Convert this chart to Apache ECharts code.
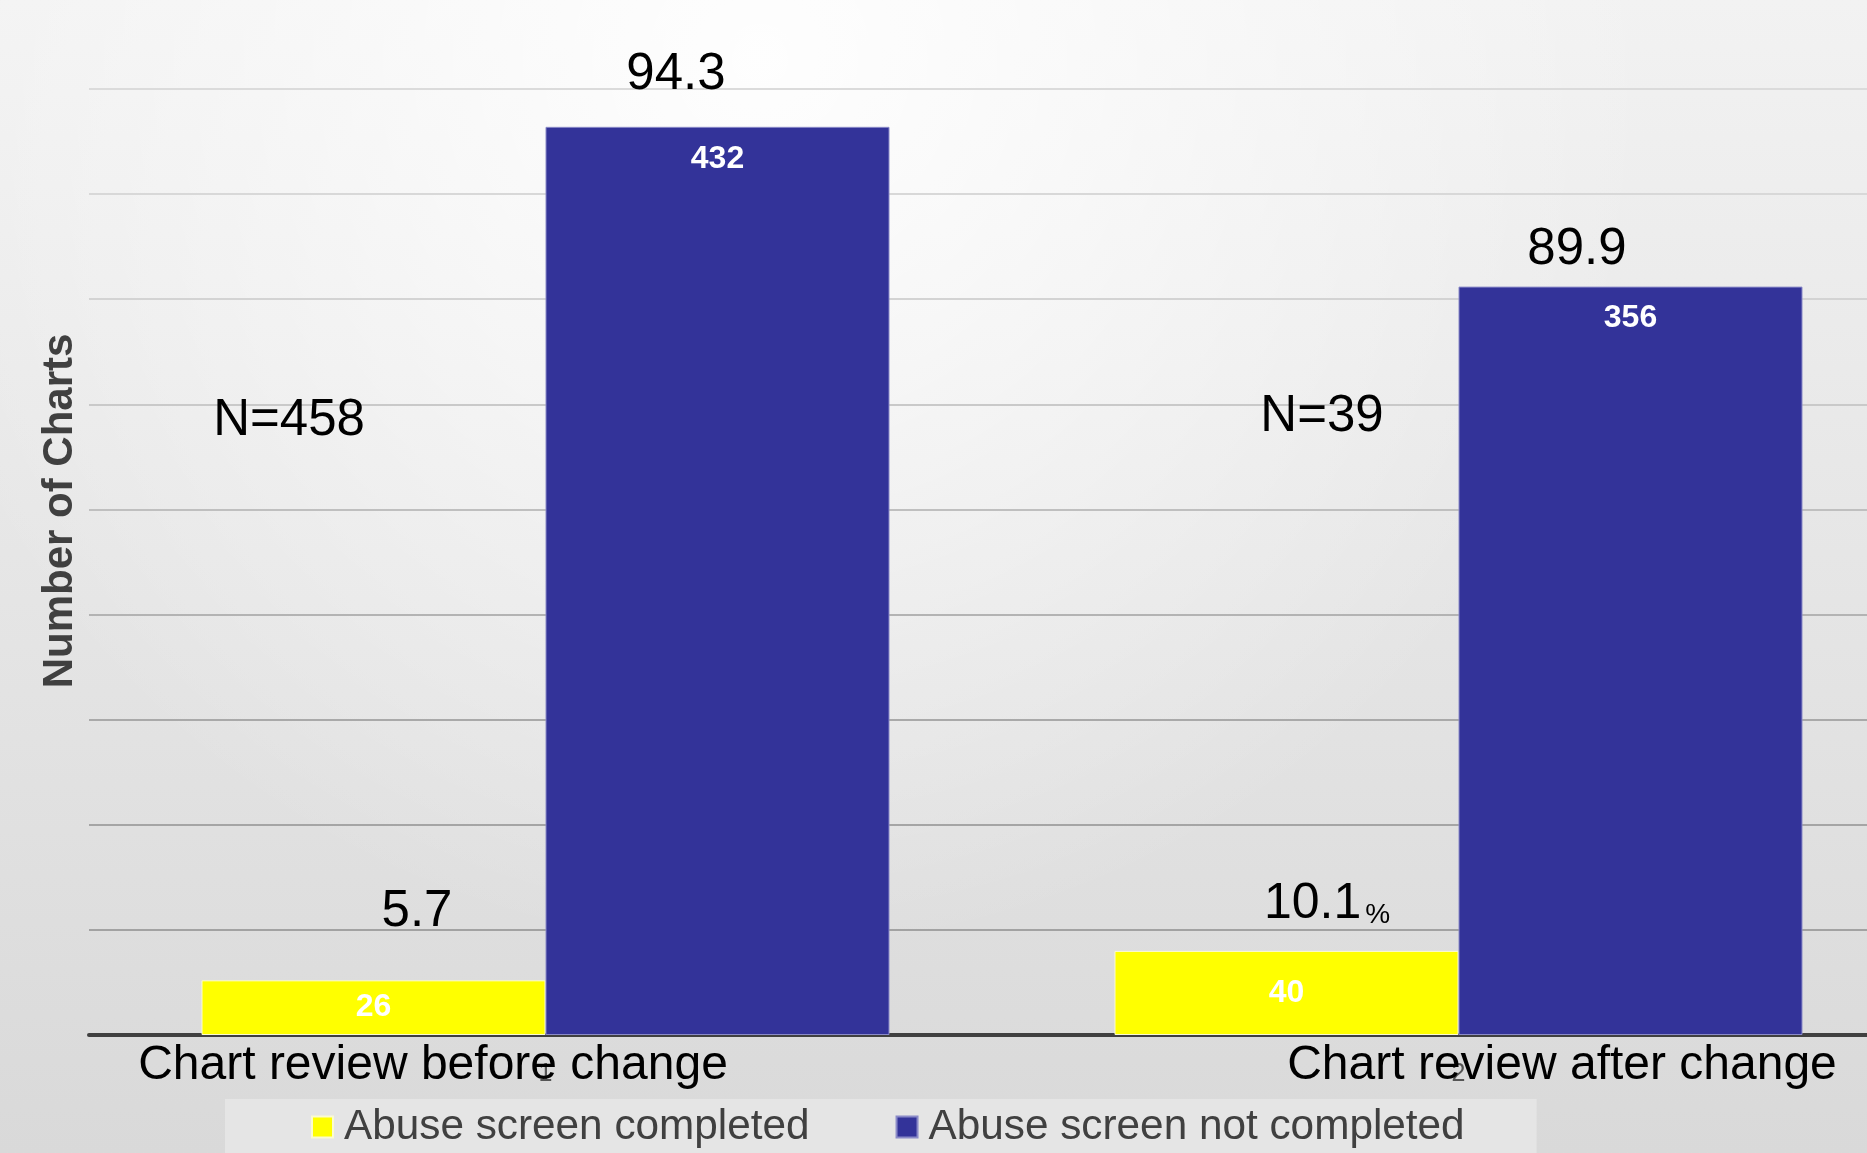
<!DOCTYPE html>
<html>
<head>
<meta charset="utf-8">
<title>Abuse screening chart review</title>
<script src="https://cdn.jsdelivr.net/npm/echarts@6/dist/echarts.min.js"></script>
<style>
  html, body { margin: 0; padding: 0; overflow: hidden; width: 1867px; height: 1153px; }
  /* the plot band carries on a little past the right edge of the page */
  #chart {
    width: 1915px;
    height: 1153px;
    background:
      radial-gradient(circle 900px at 760px 60px, rgba(255,255,255,0.92), rgba(255,255,255,0)),
      linear-gradient(180deg, #f2f2f2 0%, #d9d9d9 100%);
  }
</style>
</head>
<body>
<div id="chart"></div>
<script>
// Category axis ticks and the titles written beneath each group
const categories = ['1', '2'];
const categoryTitles = ['Chart review before change', 'Chart review after change'];

// Number of charts in each group
const screenCompleted = [26, 40];
const screenNotCompleted = [432, 356];

// Percentages and sample sizes annotated above the bars
const completedPct = ['5.7', '10.1'];
const notCompletedPct = ['94.3', '89.9'];
const sampleSizes = ['N=458', 'N=39'];

// Value axis range
const yMin = 0;
const yMax = 450;
const yStep = 50;

const FONT = '"Liberation Sans", Arial, Helvetica, sans-serif';

// Gridline shades, from the baseline upward
const gridShades = ['#404040', '#a2a2a2', '#a5a5a5', '#a9a9a9', '#b3b3b3',
                    '#bfbfbf', '#c9c9c9', '#d3d3d3', '#d8d8d8', '#dbdbdb'];

const chart = echarts.init(document.getElementById('chart'), null, { renderer: 'canvas' });

// short bars keep their count centred, tall bars show it near the top
function countLabel(v) {
  return v < 60 ? { value: v, label: { position: 'inside' } } : v;
}

const bigText = (text, x, y) => ({
  type: 'text',
  x: x, y: y,
  z: 50,
  style: {
    text: text,
    font: '51px ' + FONT,
    fill: '#000000',
    align: 'center',
    verticalAlign: 'middle'
  }
});

const option = {
  animation: false,
  backgroundColor: 'transparent',
  textStyle: { fontFamily: FONT },
  grid: { left: 89, top: 89, right: 0, bottom: 118, containLabel: false },
  legend: {
    left: 225,
    top: 1099,
    padding: [7, 72, 30, 86],
    backgroundColor: '#e5e5e5',
    itemWidth: 21,
    itemHeight: 21,
    itemGap: 86,
    icon: 'rect',
    textStyle: { fontSize: 42.3, color: '#404040', fontFamily: FONT, padding: [0, 0, 0, 6] },
    data: ['Abuse screen completed', 'Abuse screen not completed']
  },
  xAxis: {
    type: 'category',
    data: categories,
    axisLine: { show: true, lineStyle: { color: '#404040', width: 4 } },
    axisTick: { show: false },
    axisLabel: { color: '#555555', fontSize: 25, margin: 27, fontFamily: FONT },
    splitLine: { show: false }
  },
  yAxis: {
    type: 'value',
    min: yMin,
    max: yMax,
    interval: yStep,
    name: 'Number of Charts',
    nameLocation: 'middle',
    nameGap: 8,
    nameTextStyle: {
      fontSize: 42, fontWeight: 'bold', color: '#404040', fontFamily: FONT,
      padding: [0, 0, 0, 102]
    },
    axisLine: { show: false },
    axisTick: { show: false },
    axisLabel: { show: false },
    splitLine: { show: true, lineStyle: { color: gridShades, width: 2 } }
  },
  series: [
    {
      name: 'Abuse screen completed',
      type: 'bar',
      barWidth: 344,
      barGap: '0%',
      data: screenCompleted.map(countLabel),
      itemStyle: { color: '#ffff00', borderColor: '#fbfbd0', borderWidth: 1 },
      label: {
        show: true, position: 'insideTop', distance: 16,
        color: '#ffffff', fontSize: 32, fontWeight: 'bold', fontFamily: FONT
      }
    },
    {
      name: 'Abuse screen not completed',
      type: 'bar',
      barWidth: 344,
      barGap: '0%',
      data: screenNotCompleted.map(countLabel),
      itemStyle: { color: '#333399', borderColor: '#8a8ac8', borderWidth: 1 },
      label: {
        show: true, position: 'insideTop', distance: 16,
        color: '#ffffff', fontSize: 32, fontWeight: 'bold', fontFamily: FONT
      }
    }
  ],
  graphic: [
    // group titles under the axis
    {
      type: 'text', x: 433, y: 1066, z: 50,
      style: { text: categoryTitles[0], font: '48px ' + FONT, fill: '#000', align: 'center', verticalAlign: 'middle' }
    },
    {
      type: 'text', x: 1562, y: 1066, z: 50,
      style: { text: categoryTitles[1], font: '48px ' + FONT, fill: '#000', align: 'center', verticalAlign: 'middle' }
    },
    // percentages
    bigText(notCompletedPct[0], 676, 75),
    bigText(notCompletedPct[1], 1577, 250),
    bigText(completedPct[0], 417, 912),
    {
      type: 'text', x: 1327, y: 901, z: 50,
      style: {
        text: '{a|' + completedPct[1] + '}{b|%}',
        align: 'center',
        verticalAlign: 'middle',
        rich: {
          a: { fontSize: 50, fontFamily: FONT, color: '#000', verticalAlign: 'bottom', lineHeight: 56 },
          b: { fontSize: 28, fontFamily: FONT, color: '#000', verticalAlign: 'bottom', lineHeight: 56, padding: [0, 0, 0, 4] }
        }
      }
    },
    // sample sizes
    bigText(sampleSizes[0], 289, 421),
    bigText(sampleSizes[1], 1322, 417)
  ]
};

chart.setOption(option);
</script>
</body>
</html>
